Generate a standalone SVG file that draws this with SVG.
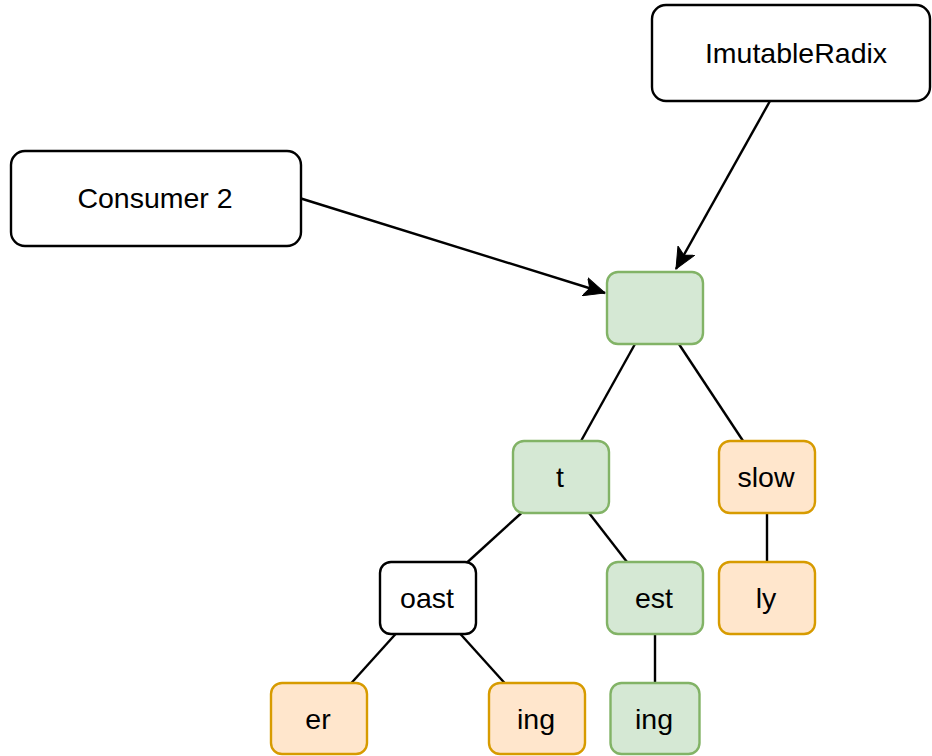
<svg xmlns="http://www.w3.org/2000/svg" width="932" height="756" viewBox="0 0 932 756">
  <style>
    .box { stroke-width: 2.4; }
    .plain { fill: #ffffff; stroke: #000000; }
    .green { fill: #d5e8d4; stroke: #82b366; }
    .orange { fill: #ffe6cc; stroke: #d79b00; }
    .label { font-family: "Liberation Sans", Arial, sans-serif; font-size: 28.5px; fill: #000000; text-anchor: middle; }
    .edge { stroke: #000000; stroke-width: 2.4; fill: none; }
  </style>
  <defs>
    <marker id="arrow" markerUnits="userSpaceOnUse" viewBox="0 0 22 20" refX="21" refY="10" markerWidth="22" markerHeight="20" orient="auto">
      <path d="M0,0.5 L21,10 L0,19.5 L5,10 Z" fill="#000000" stroke="#000000" stroke-width="1"/>
    </marker>
  </defs>

  <g id="connectors">
    <line class="edge" x1="301" y1="198.5" x2="605" y2="293" marker-end="url(#arrow)"/>
    <line class="edge" x1="770" y1="101" x2="676" y2="269" marker-end="url(#arrow)"/>
    <line class="edge" x1="635" y1="344" x2="581" y2="441"/>
    <line class="edge" x1="678.9" y1="344" x2="743.1" y2="441"/>
    <line class="edge" x1="521.4" y1="513" x2="467.6" y2="562"/>
    <line class="edge" x1="589" y1="513" x2="627" y2="562"/>
    <line class="edge" x1="767" y1="513" x2="767" y2="562"/>
    <line class="edge" x1="395.6" y1="634" x2="351.4" y2="683"/>
    <line class="edge" x1="460.4" y1="634" x2="504.6" y2="683"/>
    <line class="edge" x1="655" y1="634" x2="655" y2="683"/>
  </g>

  <g id="imutable-radix">
    <rect class="box plain" x="652" y="5" width="278" height="96" rx="14"/>
    <text class="label" x="796" y="63">ImutableRadix</text>
  </g>
  <g id="consumer-2">
    <rect class="box plain" x="11" y="151" width="290" height="95" rx="14"/>
    <text class="label" x="155" y="208">Consumer 2</text>
  </g>
  <g id="root">
    <rect class="box green" x="607" y="272" width="96" height="72" rx="11"/>
  </g>
  <g id="node-t">
    <rect class="box green" x="513" y="441" width="96" height="72" rx="11"/>
    <text class="label" x="560" y="487">t</text>
  </g>
  <g id="node-slow">
    <rect class="box orange" x="719" y="441" width="96" height="72" rx="11"/>
    <text class="label" x="766" y="487">slow</text>
  </g>
  <g id="node-oast">
    <rect class="box plain" x="380" y="562" width="96" height="72" rx="11"/>
    <text class="label" x="427" y="608">oast</text>
  </g>
  <g id="node-est">
    <rect class="box green" x="607" y="562" width="96" height="72" rx="11"/>
    <text class="label" x="654" y="608">est</text>
  </g>
  <g id="node-ly">
    <rect class="box orange" x="719" y="562" width="96" height="72" rx="11"/>
    <text class="label" x="766" y="608">ly</text>
  </g>
  <g id="node-er">
    <rect class="box orange" x="271" y="683" width="96" height="71" rx="11"/>
    <text class="label" x="318" y="729">er</text>
  </g>
  <g id="node-oast-ing">
    <rect class="box orange" x="489" y="683" width="96" height="71" rx="11"/>
    <text class="label" x="536" y="729">ing</text>
  </g>
  <g id="node-est-ing">
    <rect class="box green" x="610.5" y="683" width="89" height="71" rx="11"/>
    <text class="label" x="654" y="729">ing</text>
  </g>
</svg>
